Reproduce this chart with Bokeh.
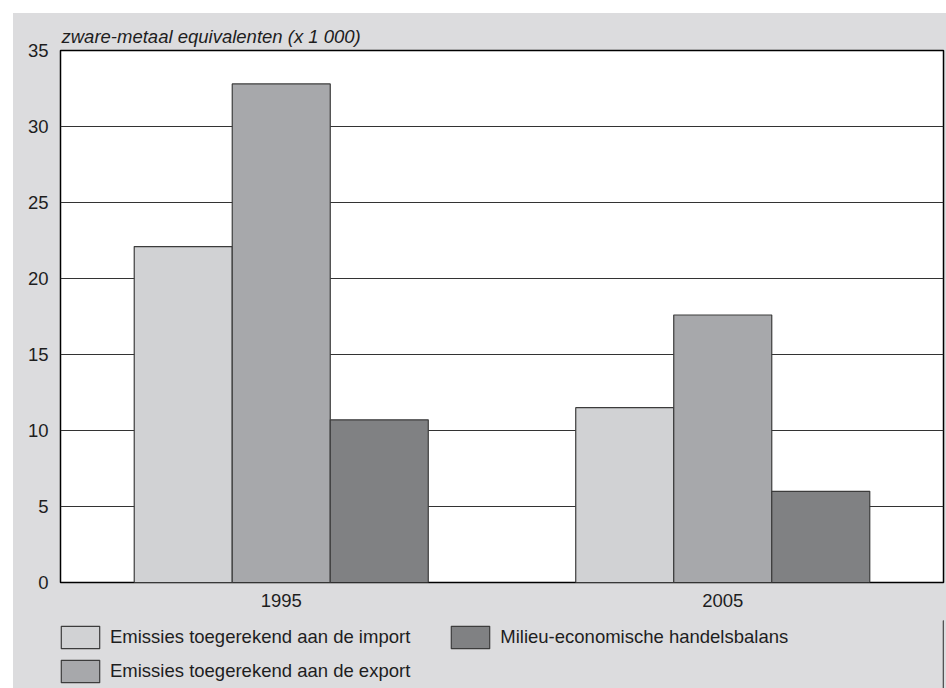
from bokeh.plotting import figure
from bokeh.layouts import column
from bokeh.models import (ColumnDataSource, FactorRange, Legend, LegendItem,
                          Range1d, FixedTicker)
from bokeh.transform import dodge
from bokeh.embed import file_html
from bokeh.resources import INLINE

# ---- data ----
years = ["1995", "2005"]
import_vals = [22.1, 11.5]
export_vals = [32.8, 17.6]
balans_vals = [10.7, 6.0]
series_labels = ["Emissies toegerekend aan de import",
                 "Emissies toegerekend aan de export",
                 "Milieu-economische handelsbalans"]
series_colors = ["#d1d2d4", "#a7a8ab", "#808183"]
y_ticks = [0, 5, 10, 15, 20, 25, 30, 35]
y_title = "zware-metaal equivalenten (x 1 000)"

FONT = "Liberation Sans"
FS = "18.5px"
BG = "#dcdcde"
TXT = "#1e1e1e"
EDGE = "#3c3c3c"

src = ColumnDataSource(dict(year=years, imp=import_vals, exp=export_vals, bal=balans_vals))

p = figure(x_range=FactorRange(*years), y_range=Range1d(0, 35),
           width=933, height=607, output_backend="svg", toolbar_location=None,
           min_border_left=47, min_border_right=3, min_border_top=37,
           min_border_bottom=38)

p.background_fill_color = "white"
p.border_fill_color = BG
p.outline_line_color = "black"
p.outline_line_width = 1.5

bw = 0.222
line_kw = dict(line_color=EDGE, line_width=1.2)
p.vbar(x=dodge("year", -bw, range=p.x_range), top="imp", width=bw,
       source=src, fill_color=series_colors[0], **line_kw)
p.vbar(x=dodge("year", 0, range=p.x_range), top="exp", width=bw,
       source=src, fill_color=series_colors[1], **line_kw)
p.vbar(x=dodge("year", bw, range=p.x_range), top="bal", width=bw,
       source=src, fill_color=series_colors[2], **line_kw)

# grid
p.xgrid.grid_line_color = None
p.ygrid.grid_line_color = "#333333"
p.ygrid.grid_line_width = 1.2
p.ygrid.level = "underlay"

# axes
for ax in (p.xaxis[0], p.yaxis[0]):
    ax.axis_line_color = None
    ax.major_tick_line_color = None
    ax.minor_tick_line_color = None
    ax.major_label_text_font = FONT
    ax.major_label_text_font_size = FS
    ax.major_label_text_color = TXT
p.yaxis.ticker = FixedTicker(ticks=y_ticks)
p.yaxis.major_label_standoff = 6
p.xaxis.major_label_standoff = 5

# title (unit label)
p.title.text = y_title
p.title.text_font = FONT
p.title.text_font_size = FS
p.title.text_font_style = "italic"
p.title.text_color = TXT
p.title.align = "left"
p.title.offset = 1
p.title.standoff = 8

# ---- legend panel (separate strip below the chart) ----
lf = figure(width=933, height=68, output_backend="svg", toolbar_location=None,
            x_range=Range1d(0, 1), y_range=Range1d(0, 1),
            x_axis_location=None, y_axis_location=None,
            min_border_left=47, min_border_right=3, min_border_top=0,
            min_border_bottom=0)
lf.background_fill_alpha = 0
lf.border_fill_color = BG
lf.outline_line_color = None
lf.grid.visible = False
# off-range placeholder marks: they only carry the legend swatch styles
hidden = ColumnDataSource(dict(x=[10], top=[10]))
dummies = [lf.vbar(x="x", top="top", width=0.1, source=hidden,
                   fill_color=c, **line_kw) for c in series_colors]

leg_kw = dict(glyph_width=48, glyph_height=28, label_standoff=6,
              label_height=40,
              label_text_font=FONT, label_text_font_size=FS,
              label_text_color=TXT, background_fill_alpha=0,
              border_line_alpha=0, padding=0, margin=0,
              orientation="horizontal")
leg1 = Legend(items=[LegendItem(label=series_labels[0], renderers=[dummies[0]]),
                     LegendItem(label=series_labels[2], renderers=[dummies[2]])],
              spacing=36, location=(-4, 31), **leg_kw)
leg2 = Legend(items=[LegendItem(label=series_labels[1], renderers=[dummies[1]])],
              location=(-4, -3), **leg_kw)
lf.add_layout(leg1)
lf.add_layout(leg2)

layout = column(p, lf, spacing=0, margin=(13, 0, 0, 13),
                styles={"background-color": BG})

open("out.html", "w").write(file_html(layout, INLINE))
